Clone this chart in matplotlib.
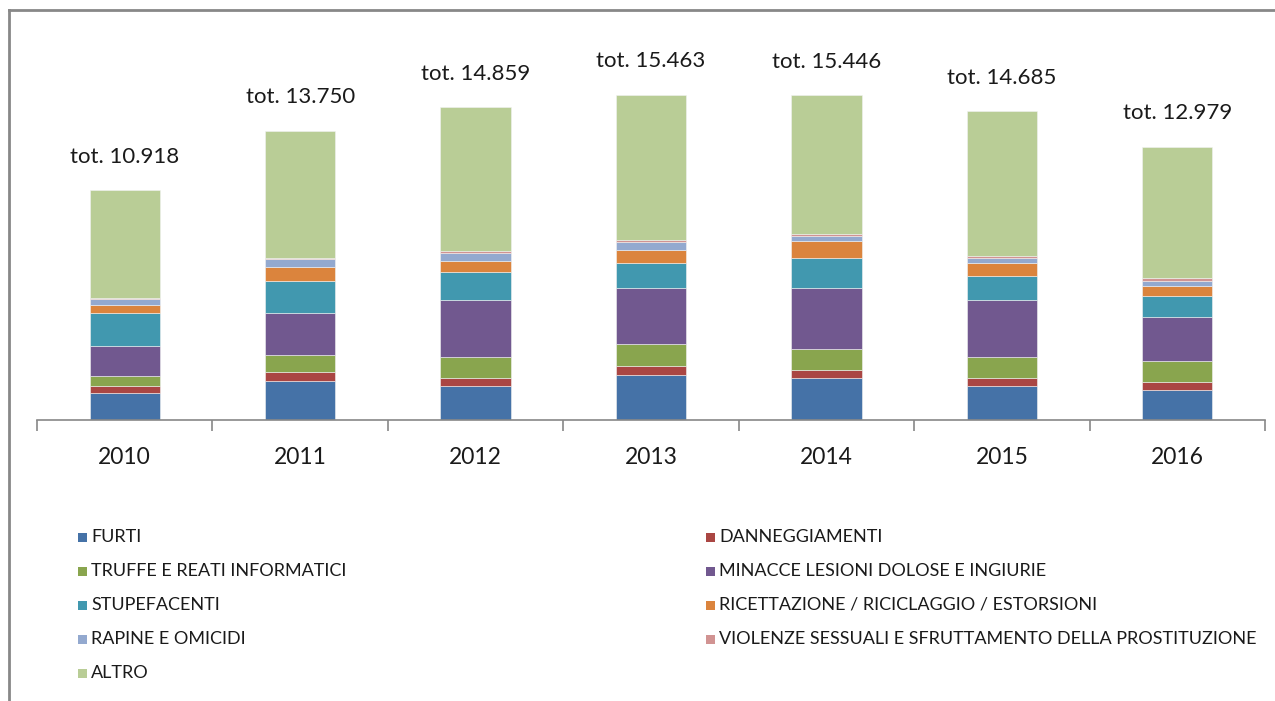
import matplotlib
matplotlib.use("Agg")
import matplotlib.pyplot as plt
from matplotlib.patches import Rectangle
from matplotlib.lines import Line2D
import numpy as np

plt.rcParams['font.family'] = ['Lato', 'DejaVu Sans']

years = ["2010", "2011", "2012", "2013", "2014", "2015", "2016"]
totals = [10918, 13750, 14859, 15463, 15446, 14685, 12979]
total_labels = ["tot. 10.918", "tot. 13.750", "tot. 14.859", "tot. 15.463",
                "tot. 15.446", "tot. 14.685", "tot. 12.979"]

series_names = ["FURTI", "DANNEGGIAMENTI", "TRUFFE E REATI INFORMATICI",
                "MINACCE LESIONI DOLOSE E INGIURIE", "STUPEFACENTI",
                "RICETTAZIONE / RICICLAGGIO / ESTORSIONI", "RAPINE E OMICIDI",
                "VIOLENZE SESSUALI E SFRUTTAMENTO DELLA PROSTITUZIONE", "ALTRO"]

furti = [1285, 1837, 1600, 2142, 1966, 1600, 1409]
danneggiamenti = [317, 428, 365, 428, 414, 365, 365]
truffe = [492, 794, 1031, 1047, 981, 1031, 1031]
minacce = [1397, 2015, 2682, 2666, 2875, 2682, 2075]
stupefacenti = [1587, 1523, 1349, 1157, 1457, 1157, 985]
ricettazione = [349, 666, 540, 633, 781, 603, 490]
rapine = [286, 381, 381, 367, 267, 271, 224]
violenze = [48, 63, 63, 110, 67, 63, 143]
altro = [5157, 6043, 6848, 6913, 6638, 6913, 6257]

series = [furti, danneggiamenti, truffe, minacce, stupefacenti,
          ricettazione, rapine, violenze, altro]
colors = ["#4572A7", "#AA4643", "#89A54E", "#71588F", "#4198AF",
          "#DB843D", "#93A9CF", "#D19392", "#B9CD96"]

W, H = 1275, 701
fig = plt.figure(figsize=(W / 100, H / 100), dpi=100)

ax_left, ax_right = 37 / W, 1265 / W
ax_bottom = 1 - 419.5 / H
ax_top = 1 - 20 / H
ax = fig.add_axes([ax_left, ax_bottom, ax_right - ax_left, ax_top - ax_bottom])

x = np.arange(len(years))
bottom = np.zeros(len(years))
for vals, col, name in zip(series, colors, series_names):
    ax.bar(x, vals, width=0.4, bottom=bottom, color=col, label=name,
           edgecolor="#F2F2F2", linewidth=0.4, zorder=2)
    bottom += np.array(vals)

for xi, t, lab in zip(x, totals, total_labels):
    ax.annotate(lab, (xi, t), xytext=(0, 24), textcoords="offset points",
                ha="center", va="center", fontsize=16, color="#1a1a1a")

ax.set_xlim(-0.5, len(years) - 0.5)
ax.set_ylim(0, 399.5 * 47.6)
for s in ["top", "right", "left"]:
    ax.spines[s].set_visible(False)
ax.spines["bottom"].set_color("#888888")
ax.spines["bottom"].set_linewidth(1.2)
ax.set_yticks([])
ax.set_xticks(x)
ax.set_xticklabels(years, fontsize=16.5, color="#1a1a1a")
ax.tick_params(axis="x", which="major", length=0, pad=20)
ax.set_xticks(np.arange(-0.5, len(years)), minor=True)
ax.tick_params(axis="x", which="minor", length=8, width=1.2, color="#888888", direction="out")

# legend drawn row-major in two columns
col_x = [78, 706]
row_y0, row_dy = 537, 34
for i, (name, col) in enumerate(zip(series_names, colors)):
    r, c = divmod(i, 2)
    yc = row_y0 + r * row_dy
    fig.patches.append(Rectangle((col_x[c] / W, 1 - (yc + 4.5) / H), 9 / W, 9 / H,
                                 transform=fig.transFigure, facecolor=col,
                                 edgecolor="none"))
    fig.text((col_x[c] + 13) / W, 1 - yc / H, name, ha="left", va="center",
             fontsize=13, color="#1a1a1a")

# outer frame (top and left)
fig.add_artist(Line2D([8.5 / W, 8.5 / W], [0, 1 - 10 / H], transform=fig.transFigure,
                      color="#888888", linewidth=2))
fig.add_artist(Line2D([8.5 / W, 1], [1 - 10 / H, 1 - 10 / H], transform=fig.transFigure,
                      color="#888888", linewidth=2))

fig.savefig("out.png", dpi=100)
